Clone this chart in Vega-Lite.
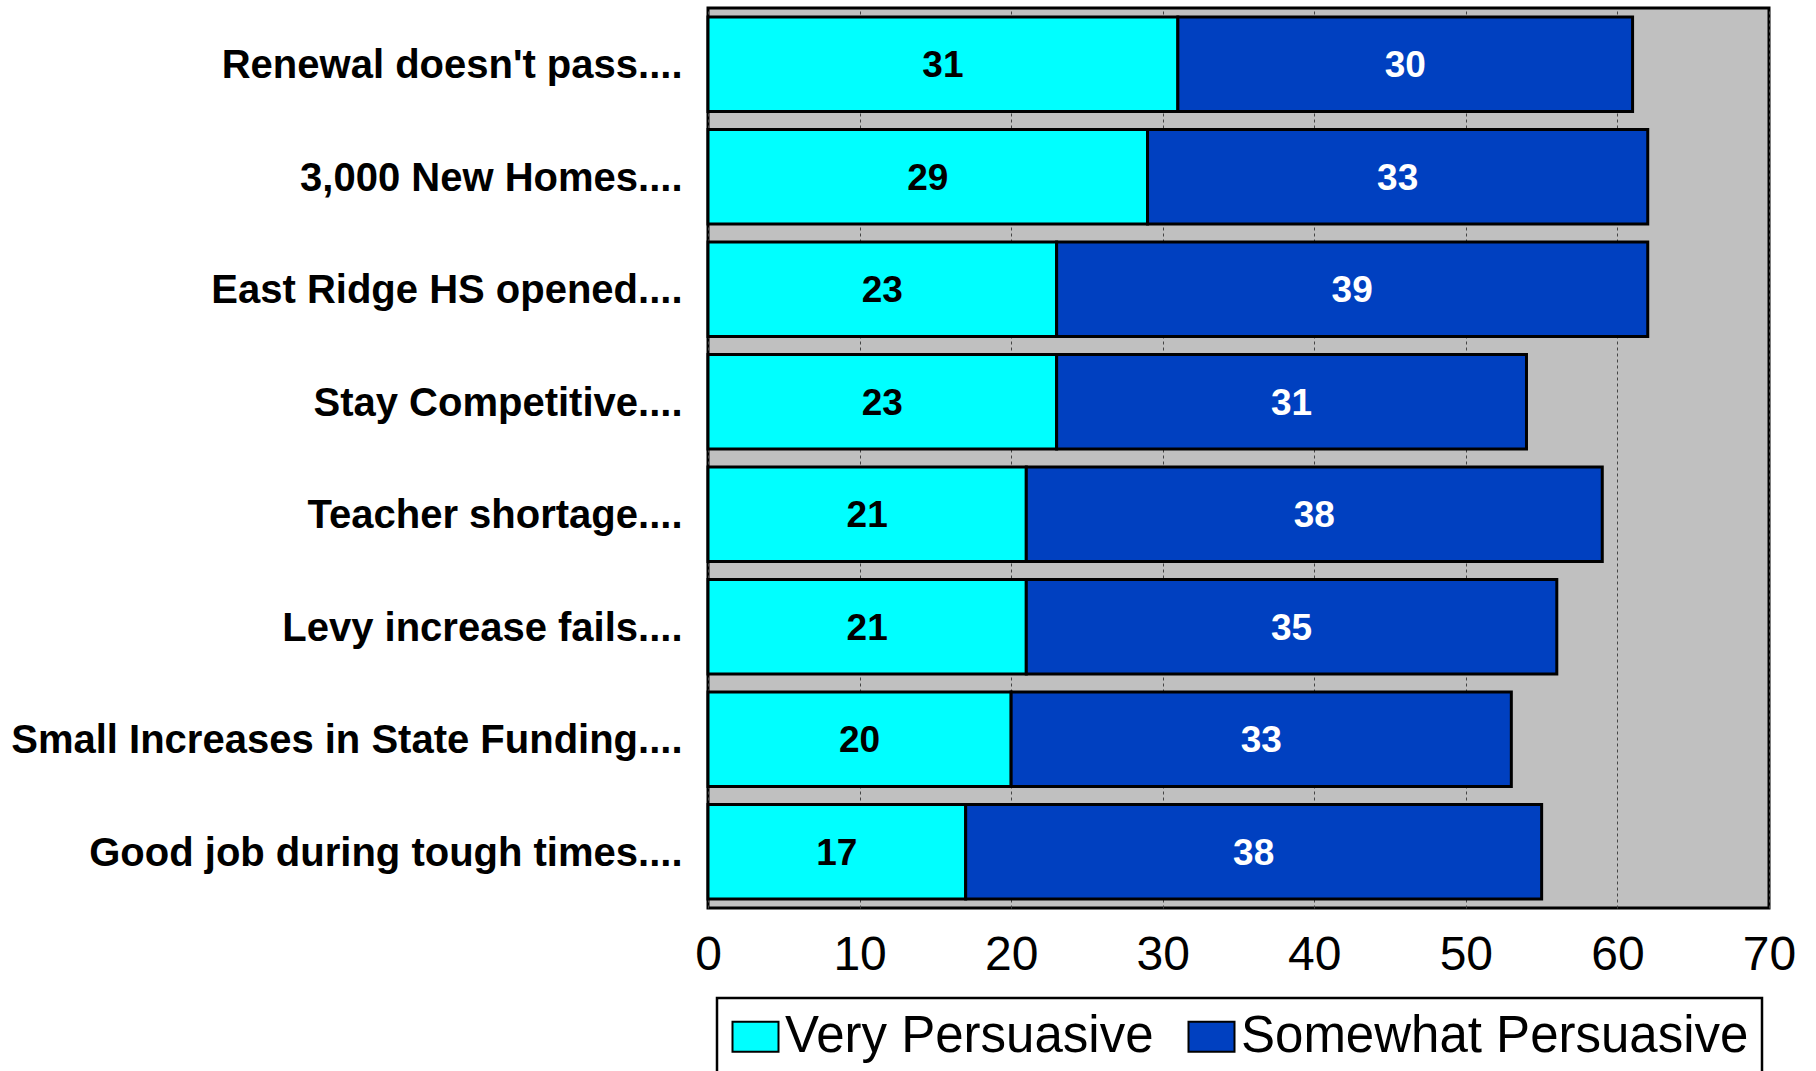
{
  "$schema": "https://vega.github.io/schema/vega-lite/v6.json",
  "autosize": "none",
  "width": 1061,
  "height": 900,
  "padding": {"left": 708, "top": 8, "right": 47, "bottom": 163},
  "background": "white",
  "config": {
    "font": "Liberation Sans",
    "view": {"fill": "#C0C0C0", "stroke": "black", "strokeWidth": 3},
    "axisX": {"gridDash": [3, 3]},
    "legend": {"strokeWidth": 2.5}
  },
  "data": {
    "values": [
      {"category": "Renewal doesn't pass....", "series": "Very Persuasive", "value": 31},
      {"category": "Renewal doesn't pass....", "series": "Somewhat Persuasive", "value": 30},
      {"category": "3,000 New Homes....", "series": "Very Persuasive", "value": 29},
      {"category": "3,000 New Homes....", "series": "Somewhat Persuasive", "value": 33},
      {"category": "East Ridge HS opened....", "series": "Very Persuasive", "value": 23},
      {"category": "East Ridge HS opened....", "series": "Somewhat Persuasive", "value": 39},
      {"category": "Stay Competitive....", "series": "Very Persuasive", "value": 23},
      {"category": "Stay Competitive....", "series": "Somewhat Persuasive", "value": 31},
      {"category": "Teacher shortage....", "series": "Very Persuasive", "value": 21},
      {"category": "Teacher shortage....", "series": "Somewhat Persuasive", "value": 38},
      {"category": "Levy increase fails....", "series": "Very Persuasive", "value": 21},
      {"category": "Levy increase fails....", "series": "Somewhat Persuasive", "value": 35},
      {"category": "Small Increases in State Funding....", "series": "Very Persuasive", "value": 20},
      {"category": "Small Increases in State Funding....", "series": "Somewhat Persuasive", "value": 33},
      {"category": "Good job during tough times....", "series": "Very Persuasive", "value": 17},
      {"category": "Good job during tough times....", "series": "Somewhat Persuasive", "value": 38}
    ]
  },
  "transform": [
    {"stack": "value", "groupby": ["category"], "sort": [{"field": "series", "order": "descending"}], "as": ["v0", "v1"]}
  ],
  "encoding": {
    "y": {
      "field": "category",
      "type": "nominal",
      "sort": null,
      "title": null,
      "scale": {"paddingInner": 0.16, "paddingOuter": 0.08},
      "axis": {
        "ticks": false,
        "domain": false,
        "labelFontSize": 40,
        "labelFontWeight": "bold",
        "labelColor": "black",
        "labelPadding": 26,
        "labelOffset": 2,
        "labelLimit": 0
      }
    }
  },
  "layer": [
    {
      "mark": {"type": "bar", "stroke": "black", "strokeWidth": 3},
      "encoding": {
        "x": {
          "field": "v0",
          "type": "quantitative",
          "scale": {"domain": [0, 70], "nice": false},
          "title": null,
          "axis": {
            "values": [0, 10, 20, 30, 40, 50, 60, 70],
            "ticks": false,
            "domain": false,
            "labelFontSize": 48,
            "labelColor": "black",
            "labelPadding": 23,
            "labelFlush": false,
            "grid": true,
            "gridColor": "#444444",
            "gridWidth": 1,
            "zindex": 0
          }
        },
        "x2": {"field": "v1"},
        "color": {
          "field": "series",
          "type": "nominal",
          "scale": {"domain": ["Very Persuasive", "Somewhat Persuasive"], "range": ["#00FFFF", "#0040C0"]},
          "legend": {
            "title": null,
            "orient": "none",
            "legendX": 9,
            "legendY": 990,
            "direction": "horizontal",
            "strokeColor": "black",
            "fillColor": "white",
            "padding": 13,
            "labelFontSize": 51,
            "labelColor": "black",
            "labelOffset": 4,
            "labelLimit": 0,
            "columnPadding": 30,
            "symbolType": "M-1,-0.65L1,-0.65L1,0.65L-1,0.65Z",
            "symbolSize": 2116,
            "symbolStrokeColor": "black",
            "symbolStrokeWidth": 2,
            "symbolOpacity": 1
          }
        }
      }
    },
    {
      "transform": [
        {"fold": ["v0", "v1"], "as": ["edge", "pos"]},
        {"aggregate": [{"op": "mean", "field": "pos", "as": "mid"}], "groupby": ["category", "series", "value"]}
      ],
      "mark": {"type": "text", "fontSize": 37, "fontWeight": "bold", "align": "center", "baseline": "middle", "dy": 2},
      "encoding": {
        "x": {"field": "mid", "type": "quantitative"},
        "text": {"field": "value", "type": "quantitative"},
        "color": {
          "condition": {"test": "datum.series === 'Very Persuasive'", "value": "black"},
          "value": "white"
        }
      }
    }
  ]
}
